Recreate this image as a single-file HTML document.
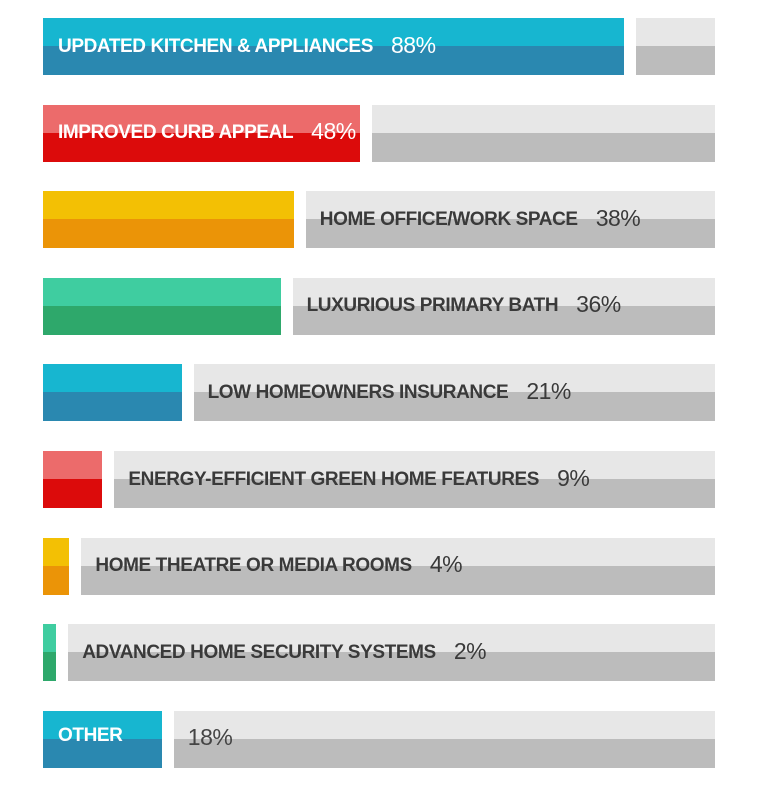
<!DOCTYPE html>
<html><head><meta charset="utf-8"><style>
body{margin:0;background:#fff;width:758px;height:791px;overflow:hidden}
#c{position:relative;width:758px;height:791px;font-family:"Liberation Sans",sans-serif}
.seg{position:absolute}
.lab{position:absolute;font-weight:bold;font-size:19px;letter-spacing:-0.4px;white-space:nowrap;line-height:20px}
.pct{font-weight:normal;font-size:23px;letter-spacing:-0.5px;margin-left:18px;position:relative;top:1px}
</style></head><body>
<div id="c"></div>
<script>
const categories=["UPDATED KITCHEN & APPLIANCES","IMPROVED CURB APPEAL","HOME OFFICE/WORK SPACE","LUXURIOUS PRIMARY BATH","LOW HOMEOWNERS INSURANCE","ENERGY-EFFICIENT GREEN HOME FEATURES","HOME THEATRE OR MEDIA ROOMS","ADVANCED HOME SECURITY SYSTEMS","OTHER"];
const values=[88,48,38,36,21,9,4,2,18];
const labelInside=[true,true,false,false,false,false,false,false,true];
const colorNames=["blue","red","yellow","green","blue","red","yellow","green","blue"];
const palette={blue:["#17b6d0","#2a88b0"],red:["#ec6b6b","#dc0b0b"],yellow:["#f3c004","#eb9407"],green:["#3fcda0","#2ea86b"]};
const x0=43,xEnd=715,top0=18,pitch=86.6,h=57,gap=12;
const xScale=v=>v*6.6;
const c=document.getElementById('c');
function rect(x,y,w,hh,col,name){const d=document.createElement('div');d.className='seg';d.style.cssText=`left:${x}px;top:${y}px;width:${w}px;height:${hh}px;background:${col}`;


c.appendChild(d);return d;}
categories.forEach((cat,i)=>{
  const y=top0+i*pitch, w=Math.max(xScale(values[i]),6), pal=palette[colorNames[i]];
  const half=Math.round(h*0.49);
  rect(x0,y,w,half,pal[0],'bar-top-'+i);
  rect(x0,y+half,w,h-half,pal[1],'bar-bottom-'+i);
  const gx=x0+w+gap;
  rect(gx,y,xEnd-gx,half,'#e7e7e7','track-top-'+i);
  rect(gx,y+half,xEnd-gx,h-half,'#bcbcbc','track-bottom-'+i);
  const l=document.createElement('div');l.className='lab';
  
  
  l.style.top=(y+h/2-13)+'px';
  if(i===8){
    l.style.left=(x0+15)+'px';l.style.color='#fff';l.textContent=cat;c.appendChild(l);
    const p=document.createElement('div');p.className='lab';
    
    
    p.style.cssText=`top:${y+h/2-13}px;left:${gx+14}px;color:#444`;
    p.innerHTML='<span class="pct" style="margin-left:0">'+values[i]+'%</span>';c.appendChild(p);
    return;
  }
  l.style.left=(labelInside[i]?x0+15:gx+14)+'px';
  l.style.color=labelInside[i]?'#fff':'#3a3a3a';
  l.innerHTML=cat.replace(/&/g,'&amp;')+'<span class="pct">'+values[i]+'%</span>';
  c.appendChild(l);
});
</script>
</body></html>
